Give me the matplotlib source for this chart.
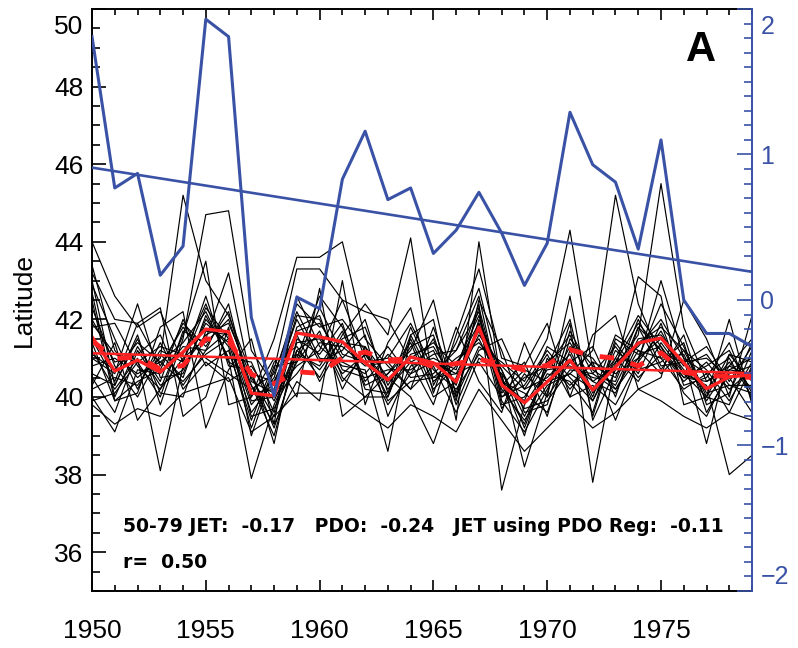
import numpy as np
import matplotlib
matplotlib.use('Agg')
import matplotlib.pyplot as plt
from matplotlib.ticker import MultipleLocator, FixedLocator

plt.rcParams['font.family'] = ['Liberation Sans', 'DejaVu Sans']

years = np.arange(1950, 1980)

# PDO index (right axis)
pdo = [1.81, 0.77, 0.87, 0.17, 0.37, 1.93, 1.81, -0.12, -0.66, 0.02,
       -0.06, 0.83, 1.16, 0.69, 0.77, 0.32, 0.48, 0.74, 0.46, 0.10,
       0.39, 1.29, 0.93, 0.81, 0.35, 1.10, 0.00, -0.23, -0.23, -0.32]

# ensemble mean jet latitude
jet_mean = [41.55, 40.67, 40.95, 40.64, 41.16, 41.75, 41.68, 40.10, 40.03, 41.65,
            41.55, 41.42, 40.88, 40.44, 41.03, 40.88, 40.39, 41.80, 40.31, 39.85,
            40.39, 40.95, 40.18, 40.77, 41.39, 41.52, 40.88, 40.21, 40.52, 40.57]

# jet reconstructed with PDO regression
jet_pdo = [41.45, 40.99, 41.03, 40.72, 40.81, 41.50, 41.45, 40.59, 40.34, 40.65,
           40.61, 41.01, 41.16, 40.95, 40.99, 40.78, 40.86, 40.97, 40.85, 40.69,
           40.82, 41.22, 41.06, 41.00, 40.80, 41.14, 40.64, 40.54, 40.54, 40.50]

# individual members
members = [
    [44.0, 42.6, 41.8, 42.2, 40.9, 42.3, 41.5, 39.8, 40.5, 42.4, 41.8, 42.0, 41.2, 40.0, 41.5, 40.2, 40.8, 42.1, 40.0, 40.3, 41.2, 40.5, 39.9, 41.0, 42.1, 41.3, 40.5, 40.8, 41.2, 40.1],
    [43.4, 41.2, 40.5, 41.0, 45.2, 43.0, 42.1, 40.6, 39.2, 41.0, 42.6, 41.8, 40.4, 41.1, 40.6, 41.5, 39.9, 42.5, 41.2, 39.6, 39.8, 41.7, 40.6, 40.2, 41.0, 42.4, 41.3, 40.0, 39.8, 41.2],
    [43.0, 40.3, 41.6, 39.8, 41.5, 44.7, 44.8, 41.2, 40.3, 42.0, 40.9, 41.2, 42.0, 40.1, 41.8, 40.5, 41.0, 41.4, 40.7, 39.2, 40.8, 42.0, 39.5, 41.4, 40.6, 41.9, 40.3, 40.5, 41.4, 39.9],
    [42.9, 41.5, 40.2, 41.4, 40.3, 41.2, 42.4, 40.0, 41.5, 43.6, 43.6, 44.0, 41.5, 40.8, 40.2, 41.8, 40.1, 41.9, 39.7, 40.6, 40.0, 40.9, 41.3, 40.0, 41.8, 40.7, 41.6, 39.8, 40.1, 41.4],
    [42.7, 40.0, 41.3, 40.4, 42.0, 40.8, 41.2, 39.4, 40.9, 41.3, 40.5, 41.6, 42.4, 41.6, 44.1, 40.3, 41.4, 42.8, 40.4, 40.1, 39.6, 41.2, 40.0, 41.6, 41.2, 41.0, 40.2, 40.6, 39.6, 40.8],
    [42.3, 40.8, 40.0, 41.1, 40.5, 42.1, 41.0, 40.9, 39.6, 41.8, 42.1, 40.5, 40.0, 40.6, 41.2, 42.5, 40.0, 41.3, 40.9, 40.4, 41.5, 44.3, 40.7, 40.3, 41.5, 41.6, 40.8, 41.1, 40.3, 40.3],
    [41.8, 41.9, 40.8, 40.2, 41.0, 41.5, 43.2, 40.4, 40.1, 40.8, 41.2, 42.5, 41.0, 39.8, 40.6, 40.9, 40.6, 41.7, 40.2, 39.4, 40.3, 40.6, 41.2, 45.2, 42.4, 41.0, 41.1, 39.9, 40.8, 40.5],
    [41.5, 40.4, 41.9, 40.8, 41.8, 41.0, 40.6, 40.2, 40.6, 42.2, 41.0, 40.9, 40.6, 41.3, 40.5, 40.6, 41.2, 42.2, 39.8, 40.0, 40.9, 41.4, 40.4, 40.8, 41.6, 45.5, 41.8, 40.4, 40.7, 41.0],
    [41.2, 40.2, 41.0, 38.1, 40.8, 41.6, 41.9, 40.5, 39.5, 41.4, 41.5, 40.6, 41.1, 40.2, 40.9, 41.2, 40.0, 42.0, 40.5, 39.0, 41.0, 40.2, 40.9, 40.6, 41.0, 41.5, 40.7, 40.2, 40.9, 40.2],
    [40.8, 41.0, 40.6, 40.9, 41.4, 42.2, 41.0, 37.9, 39.8, 41.1, 40.8, 41.7, 40.3, 40.6, 41.4, 40.0, 40.4, 41.6, 40.8, 40.2, 40.5, 41.1, 39.9, 41.2, 40.7, 40.9, 41.4, 39.6, 40.6, 40.8],
    [40.5, 39.6, 41.2, 40.3, 40.7, 41.9, 41.4, 39.6, 40.4, 41.7, 41.9, 41.0, 41.6, 39.5, 40.8, 41.0, 40.7, 42.4, 37.6, 39.8, 40.7, 40.8, 40.5, 40.4, 41.8, 41.2, 40.4, 40.9, 40.2, 40.7],
    [40.0, 39.1, 40.7, 40.6, 41.3, 41.2, 41.7, 39.9, 40.0, 40.6, 41.4, 41.3, 40.8, 40.9, 40.2, 40.8, 39.6, 41.0, 40.6, 38.2, 40.1, 41.9, 37.8, 40.9, 41.3, 42.0, 41.0, 40.6, 41.0, 40.0],
    [40.2, 40.5, 40.3, 41.2, 40.9, 42.6, 40.8, 40.7, 38.8, 41.5, 41.1, 41.9, 40.2, 40.1, 41.1, 41.3, 40.3, 42.3, 40.1, 40.7, 40.4, 40.6, 40.2, 41.0, 40.4, 41.4, 40.6, 40.3, 38.0, 38.5],
    [41.9, 41.1, 40.9, 40.0, 41.7, 41.4, 42.0, 40.3, 39.3, 42.6, 41.3, 40.8, 40.7, 38.6, 41.6, 40.4, 40.9, 41.5, 40.3, 40.9, 39.5, 41.5, 40.8, 40.5, 42.0, 40.8, 40.9, 41.3, 40.4, 41.3],
    [41.0, 40.6, 42.4, 40.5, 40.6, 42.0, 41.3, 39.2, 40.8, 40.9, 41.7, 40.2, 41.3, 40.5, 40.0, 38.8, 40.5, 41.8, 40.7, 39.5, 40.6, 40.4, 39.6, 41.5, 41.1, 41.3, 40.1, 39.5, 40.7, 40.6],
    [42.0, 40.9, 41.1, 41.6, 40.2, 40.9, 40.4, 40.8, 39.9, 41.2, 40.7, 41.5, 41.8, 40.3, 41.3, 41.6, 39.8, 41.2, 41.5, 40.2, 41.1, 40.0, 40.3, 39.8, 40.9, 41.7, 40.6, 40.0, 41.1, 40.4],
    [41.4, 39.9, 40.4, 40.7, 41.9, 41.3, 42.2, 40.1, 40.2, 42.1, 42.0, 40.7, 40.5, 40.7, 40.7, 41.1, 41.2, 42.6, 39.9, 39.1, 40.2, 41.3, 41.0, 40.2, 41.2, 40.6, 41.2, 40.7, 39.9, 40.9],
    [40.6, 40.3, 41.5, 40.1, 40.0, 41.7, 41.6, 39.5, 39.7, 40.9, 42.3, 41.1, 40.9, 41.0, 41.9, 40.7, 40.2, 41.1, 40.6, 39.7, 39.9, 40.7, 40.6, 41.3, 40.5, 41.1, 40.9, 41.0, 40.5, 39.6],
    [39.9, 40.1, 40.9, 41.3, 41.1, 42.4, 40.9, 40.6, 40.4, 41.6, 40.4, 41.4, 41.3, 39.9, 40.4, 40.5, 40.6, 40.9, 40.0, 40.5, 40.8, 41.6, 40.1, 40.9, 41.9, 41.2, 40.5, 40.4, 40.8, 41.5],
    [41.1, 40.7, 41.4, 40.9, 40.4, 41.1, 41.5, 40.3, 39.0, 41.2, 41.6, 40.4, 41.1, 40.4, 41.0, 41.4, 40.8, 41.9, 40.4, 39.9, 41.3, 40.9, 40.4, 40.1, 41.4, 41.8, 41.2, 40.1, 40.3, 40.1],
    [43.2, 42.0, 41.9, 42.3, 39.5, 40.0, 41.8, 39.0, 40.7, 43.3, 43.3, 42.5, 42.2, 42.0, 40.9, 39.8, 41.6, 43.3, 41.0, 40.8, 41.9, 40.0, 41.6, 42.1, 40.2, 40.5, 42.5, 41.5, 40.0, 42.1],
    [39.8, 39.3, 39.7, 39.5, 40.1, 40.3, 40.5, 39.1, 39.5, 40.1, 40.1, 40.0, 39.6, 39.2, 39.8, 39.5, 39.1, 40.2, 39.4, 38.6, 39.2, 39.8, 39.2, 39.6, 40.2, 39.9, 39.5, 39.2, 39.6, 39.4],
    [42.5, 39.9, 40.1, 41.8, 42.2, 39.2, 40.7, 41.5, 39.3, 40.4, 39.9, 43.0, 39.8, 41.4, 42.3, 40.1, 41.8, 40.4, 39.6, 41.4, 40.0, 42.6, 39.4, 40.7, 43.1, 42.6, 39.8, 40.0, 42.0, 39.8],
    [40.3, 41.4, 39.4, 40.2, 41.6, 43.5, 39.8, 40.0, 41.0, 40.0, 42.8, 39.5, 40.0, 40.0, 41.6, 42.0, 39.4, 44.0, 40.3, 39.3, 40.9, 40.3, 40.9, 39.4, 40.9, 43.0, 41.0, 38.8, 41.1, 40.9],
]

stats_text = '50-79 JET:  -0.17   PDO:  -0.24   JET using PDO Reg:  -0.11'
r_text = 'r=  0.50'

blue = '#3a52a6'
red = '#ff2222'

W, H = 798, 648
fig = plt.figure(figsize=(W / 100, H / 100), dpi=100)
ax = fig.add_axes([0.1153, 0.088, 0.8271, 0.8981])

for m in members:
    ax.plot(years, m, color='black', lw=0.85)

ax.plot(years, jet_mean, color=red, lw=2.4)
ax.plot(years, jet_pdo, color=red, lw=3.5, dashes=(3, 3.5))
# linear trend of the mean
c = np.polyfit(years, jet_mean, 1)
ax.plot(years, np.polyval(c, years), color=red, lw=1.8)

ax.set_xlim(1950, 1979)
ax.set_ylim(35, 50)
ax.xaxis.set_major_locator(FixedLocator([1950, 1955, 1960, 1965, 1970, 1975]))
ax.xaxis.set_minor_locator(MultipleLocator(1))
ax.yaxis.set_major_locator(FixedLocator([36, 38, 40, 42, 44, 46, 48, 50]))
ax.yaxis.set_minor_locator(MultipleLocator(0.5))
ax.set_yticklabels(['36', '38', '40', '42', '44', '46', '48', ''])
ax.tick_params(axis='x', which='both', direction='in', top=True, labelsize=19, pad=20)
ax.tick_params(axis='x', which='major', length=8, width=1.2)
ax.tick_params(axis='x', which='minor', length=4.5, width=1.2)
ax.tick_params(axis='y', which='both', direction='in', right=False, labelsize=19, pad=6)
ax.tick_params(axis='y', which='major', length=10, width=1.2)
ax.tick_params(axis='y', which='minor', length=5.5, width=1.2)
for s in ['left', 'top', 'bottom']:
    ax.spines[s].set_linewidth(1.4)
ax.spines['right'].set_visible(False)
ax.annotate('50', xy=(0, 50), xycoords=('axes fraction', 'data'), xytext=(-6, -13),
            textcoords='offset points', ha='right', va='center', fontsize=19)
ax.set_ylabel('Latitude', fontsize=19, labelpad=13)

fig.text(123 / W, 1 - 527 / H, stats_text, fontsize=13.5, fontweight='bold',
         family='DejaVu Sans', va='center')
fig.text(123 / W, 1 - 562 / H, r_text, fontsize=13.5, fontweight='bold',
         family='DejaVu Sans', va='center')
fig.text(701 / W, 1 - 50 / H, 'A', fontsize=30, fontweight='bold', ha='center', va='center')

# PDO on right axis
ax2 = ax.twinx()
ax2.plot(years, pdo, color=blue, lw=2.2)
c2 = np.polyfit(years, pdo, 1)
ax2.plot(years, np.polyval(c2, years), color=blue, lw=1.9)
ax2.set_ylim(-2, 2)
ax2.yaxis.set_major_locator(FixedLocator([-2, -1, 0, 1, 2]))
ax2.yaxis.set_minor_locator(MultipleLocator(0.1))
ax2.set_yticklabels(['', '\u22121', '0', '1', ''])
ax2.tick_params(axis='y', which='both', direction='in', colors=blue, labelsize=18, pad=6)
ax2.tick_params(axis='y', which='major', length=11, width=1.2)
ax2.tick_params(axis='y', which='minor', length=5.5, width=1.2)
for s in ['left', 'top', 'bottom']:
    ax2.spines[s].set_visible(False)
ax2.spines['right'].set_color(blue)
ax2.spines['right'].set_linewidth(1.4)
ax2.annotate('2', xy=(1, 2), xycoords=('axes fraction', 'data'), xytext=(6, -13),
             textcoords='offset points', ha='left', va='center', fontsize=18, color=blue)
ax2.annotate('\u22122', xy=(1, -2), xycoords=('axes fraction', 'data'), xytext=(6, 10),
             textcoords='offset points', ha='left', va='center', fontsize=18, color=blue)

fig.savefig('out.png', dpi=100)
